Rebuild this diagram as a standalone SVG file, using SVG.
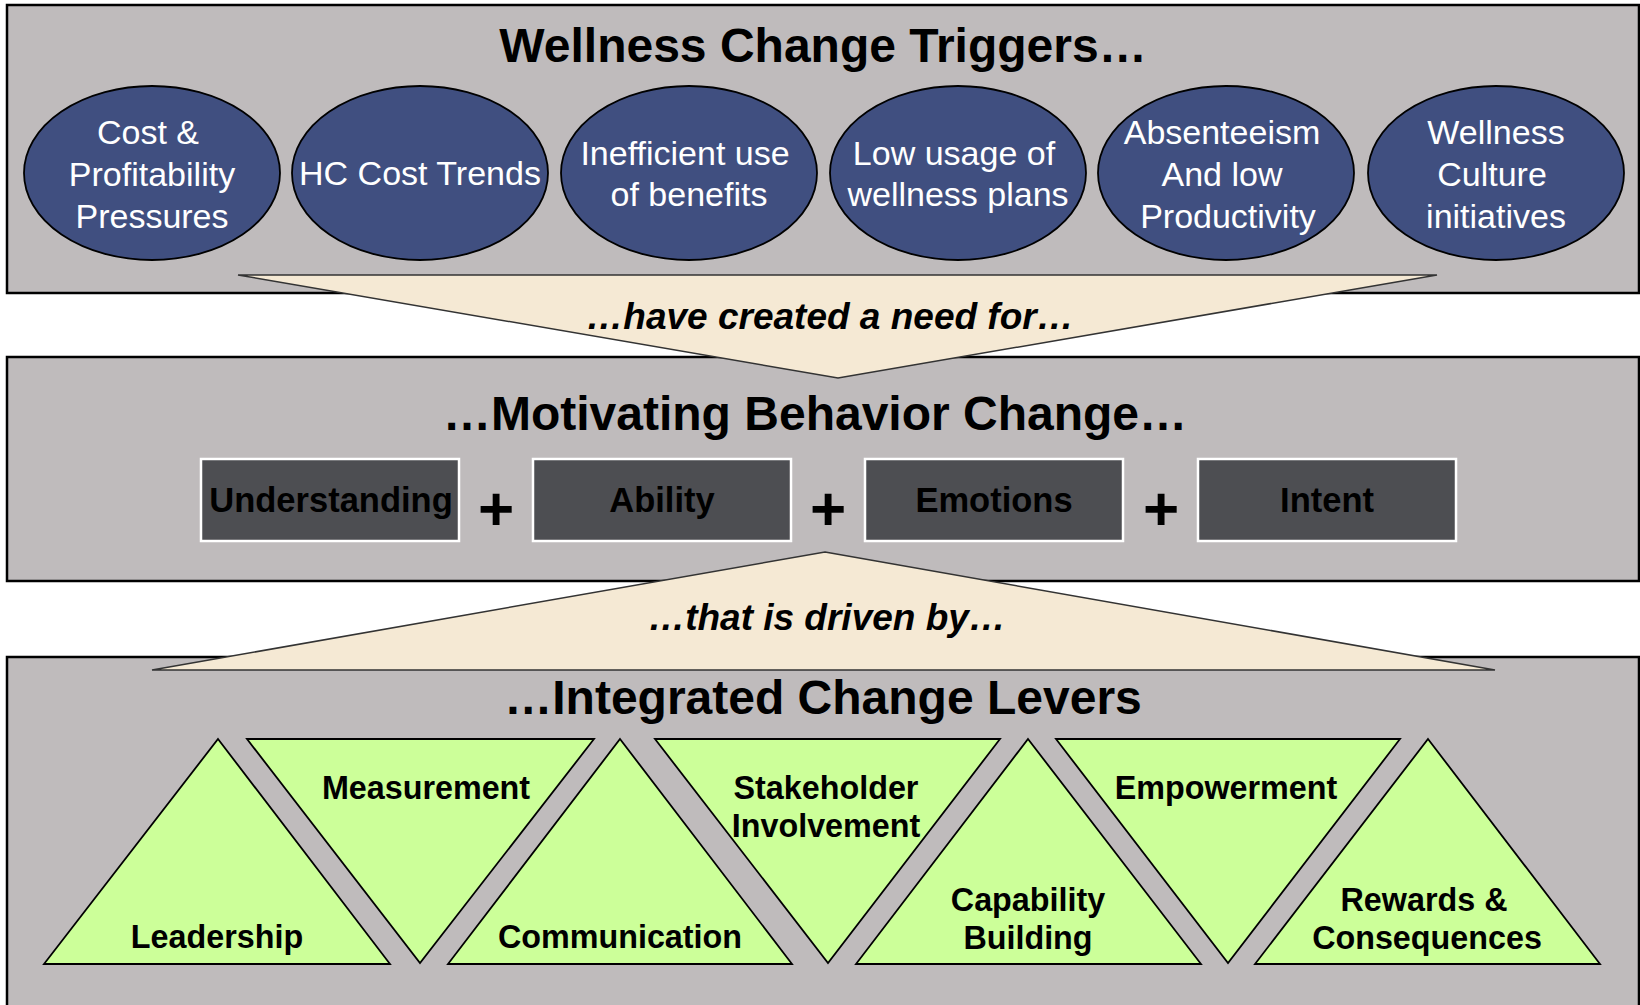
<svg xmlns="http://www.w3.org/2000/svg" width="1640" height="1005" viewBox="0 0 1640 1005">
  <style>
    .panel { fill: #bfbbbc; stroke: #000; stroke-width: 2.5; }
    .title { font-family: "Liberation Sans", Arial, sans-serif; font-weight: bold; font-size: 48px; fill: #000; text-anchor: middle; }
    .trigger { fill: #404f80; stroke: #000; stroke-width: 1.8; }
    .trig-text { font-family: "Liberation Sans", Arial, sans-serif; font-size: 34px; fill: #fff; text-anchor: middle; }
    .factor { fill: #4d4e52; stroke: #fff; stroke-width: 2.5; }
    .factor-text { font-family: "Liberation Sans", Arial, sans-serif; font-weight: bold; font-size: 34.5px; fill: #000; text-anchor: middle; }
    .plus { font-family: "Liberation Sans", Arial, sans-serif; font-weight: bold; font-size: 62px; fill: #000; text-anchor: middle; }
    .funnel { fill: #f5e9d4; stroke: #333; stroke-width: 1.5; stroke-linejoin: miter; }
    .funnel-text { font-family: "Liberation Sans", Arial, sans-serif; font-weight: bold; font-style: italic; font-size: 37px; fill: #000; text-anchor: middle; }
    .lever { fill: #ccff99; stroke: #000; stroke-width: 1.8; stroke-linejoin: miter; }
    .lever-text { font-family: "Liberation Sans", Arial, sans-serif; font-weight: bold; font-size: 32.3px; fill: #000; text-anchor: middle; }
  </style>

  <!-- Section backgrounds -->
  <g id="panels">
    <rect id="panel-triggers" class="panel" x="7" y="5" width="1632" height="288"/>
    <rect id="panel-behavior" class="panel" x="7" y="357" width="1632" height="224"/>
    <rect id="panel-levers" class="panel" x="7" y="657" width="1632" height="360"/>
  </g>

  <!-- Section titles -->
  <text id="title-triggers" class="title" x="823" y="62">Wellness Change Triggers…</text>
  <text id="title-behavior" class="title" x="815" y="430">…Motivating Behavior Change…</text>
  <text id="title-levers" class="title" x="823" y="714">…Integrated Change Levers</text>

  <!-- Triggers -->
  <g id="trigger-cost">
    <ellipse class="trigger" cx="152" cy="173" rx="128" ry="87"/>
    <text class="trig-text" x="148" y="144">Cost &amp;</text>
    <text class="trig-text" x="152" y="186">Profitability</text>
    <text class="trig-text" x="152" y="228">Pressures</text>
  </g>
  <g id="trigger-hc">
    <ellipse class="trigger" cx="420" cy="173" rx="128" ry="87"/>
    <text class="trig-text" x="420" y="185">HC Cost Trends</text>
  </g>
  <g id="trigger-benefits">
    <ellipse class="trigger" cx="689" cy="173" rx="128" ry="87"/>
    <text class="trig-text" x="685" y="165">Inefficient use</text>
    <text class="trig-text" x="689" y="206">of benefits</text>
  </g>
  <g id="trigger-usage">
    <ellipse class="trigger" cx="958" cy="173" rx="128" ry="87"/>
    <text class="trig-text" x="954" y="165">Low usage of</text>
    <text class="trig-text" x="958" y="206">wellness plans</text>
  </g>
  <g id="trigger-absenteeism">
    <ellipse class="trigger" cx="1226" cy="173" rx="128" ry="87"/>
    <text class="trig-text" x="1222" y="144">Absenteeism</text>
    <text class="trig-text" x="1222" y="186">And low</text>
    <text class="trig-text" x="1228" y="228">Productivity</text>
  </g>
  <g id="trigger-culture">
    <ellipse class="trigger" cx="1496" cy="173" rx="128" ry="87"/>
    <text class="trig-text" x="1496" y="144">Wellness</text>
    <text class="trig-text" x="1492" y="186">Culture</text>
    <text class="trig-text" x="1496" y="228">initiatives</text>
  </g>

  <!-- Behavior factors -->
  <g id="factor-understanding">
    <rect class="factor" x="201" y="459" width="258" height="82"/>
    <text class="factor-text" x="331" y="512">Understanding</text>
  </g>
  <g id="factor-ability">
    <rect class="factor" x="533" y="459" width="258" height="82"/>
    <text class="factor-text" x="662" y="512">Ability</text>
  </g>
  <g id="factor-emotions">
    <rect class="factor" x="865" y="459" width="258" height="82"/>
    <text class="factor-text" x="994" y="512">Emotions</text>
  </g>
  <g id="factor-intent">
    <rect class="factor" x="1198" y="459" width="258" height="82"/>
    <text class="factor-text" x="1327" y="512">Intent</text>
  </g>
  <g id="plus-signs">
    <text class="plus" x="496" y="530">+</text>
    <text class="plus" x="828" y="530">+</text>
    <text class="plus" x="1161" y="530">+</text>
  </g>

  <!-- Funnel connectors between sections -->
  <g id="connectors">
    <g id="link-triggers-behavior">
      <polygon class="funnel" points="238,275 1437,275 838,378"/>
      <text class="funnel-text" x="830" y="329">…have created a need for…</text>
    </g>
    <g id="link-levers-behavior">
      <polygon class="funnel" points="825,552 1495,670 152,670"/>
      <text class="funnel-text" x="827" y="630">…that is driven by…</text>
    </g>
  </g>

  <!-- Change levers -->
  <g id="lever-leadership">
    <polygon class="lever" points="218,739 390,964 44,964"/>
    <text class="lever-text" x="217" y="948">Leadership</text>
  </g>
  <g id="lever-measurement">
    <polygon class="lever" points="247,739 594,739 420,963"/>
    <text class="lever-text" x="426" y="799">Measurement</text>
  </g>
  <g id="lever-communication">
    <polygon class="lever" points="620,739 792,964 448,964"/>
    <text class="lever-text" x="620" y="948">Communication</text>
  </g>
  <g id="lever-stakeholder">
    <polygon class="lever" points="655,739 1000,739 828,963"/>
    <text class="lever-text" x="826" y="799">Stakeholder</text>
    <text class="lever-text" x="826" y="837">Involvement</text>
  </g>
  <g id="lever-capability">
    <polygon class="lever" points="1028,739 1201,964 856,964"/>
    <text class="lever-text" x="1028" y="911">Capability</text>
    <text class="lever-text" x="1028" y="949">Building</text>
  </g>
  <g id="lever-empowerment">
    <polygon class="lever" points="1056,739 1400,739 1228,963"/>
    <text class="lever-text" x="1226" y="799">Empowerment</text>
  </g>
  <g id="lever-rewards">
    <polygon class="lever" points="1428,739 1600,964 1255,964"/>
    <text class="lever-text" x="1424" y="911">Rewards &amp;</text>
    <text class="lever-text" x="1427" y="949">Consequences</text>
  </g>
</svg>
